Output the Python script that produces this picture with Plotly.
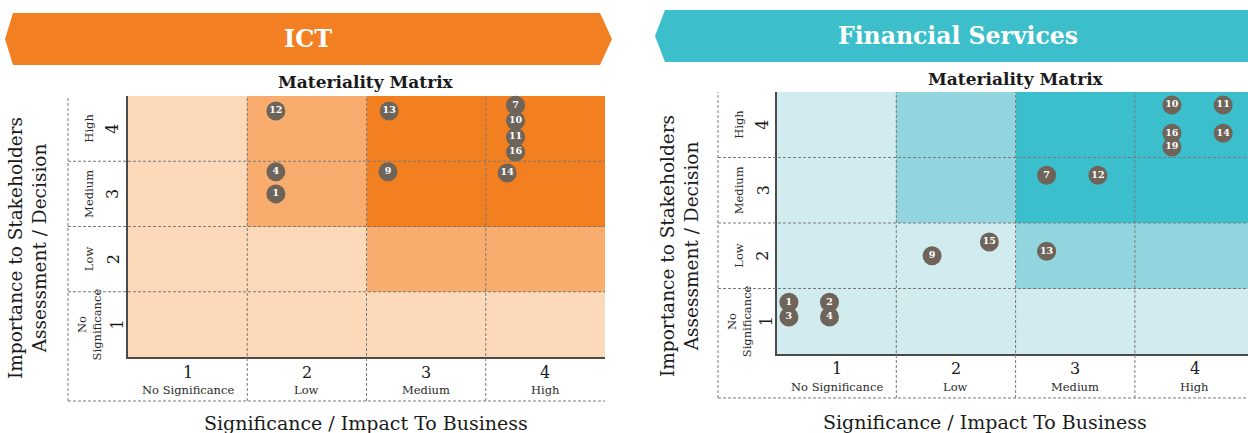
import plotly.graph_objects as go

W, H = 1248, 433

# ---------------- data ----------------
levels = ["No Significance", "Low", "Medium", "High"]
level_nums = ["1", "2", "3", "4"]
y_levels = ["No<br>Significance", "Low", "Medium", "High"]

# cell intensity (rows bottom->top, cols left->right): 0 light, 1 medium, 2 dark
cell_levels = [
    [0, 0, 0, 0],
    [0, 0, 1, 1],
    [0, 1, 2, 2],
    [0, 1, 2, 2],
]

ict_ids = ["12", "13", "7", "10", "11", "16", "4", "1", "9", "14"]
ict_x = [1.24, 2.19, 3.25, 3.25, 3.25, 3.25, 1.24, 1.24, 2.18, 3.18]
ict_y = [3.77, 3.77, 3.86, 3.62, 3.37, 3.14, 2.84, 2.50, 2.84, 2.82]

fs_ids = ["10", "11", "16", "14", "19", "7", "12", "15", "13", "9", "1", "2", "3", "4"]
fs_x = [3.31, 3.74, 3.31, 3.74, 3.31, 2.26, 2.69, 1.78, 2.26, 1.30, 0.10, 0.44, 0.10, 0.44]
fs_y = [3.80, 3.80, 3.37, 3.37, 3.16, 2.73, 2.73, 1.71, 1.57, 1.50, 0.79, 0.79, 0.565, 0.565]

ict_colors = ["#FCD9B8", "#F8AC6D", "#F27F20"]
fs_colors = ["#D2EBEE", "#93D5DE", "#3BBFCC"]

FONT = "DejaVu Serif"
DOT = "#6E645A"
DASH = "#7a7a7a"
INK = "#1a1a1a"


def px(x):
    return x / W


def py(y):
    return 1 - y / H


fig = go.Figure()

panels = [
    dict(name="ICT", banner="#F28022", colors=ict_colors, ids=ict_ids, xs=ict_x, ys=ict_y,
         xa="x", ya="y", left=128, right=605, top=96, bottom=357, outer=68, low=401,
         unit=119.25, band=(5, 13, 612, 13, 65, 39), title_x=308, title_y=39,
         mm_x=366, mm_y=82, ylab_x=(89, 113, 117), ytitle_x=27, ytitle_y=248,
         xnum_y=372, xlab_y=390, xtitle_y=423, xtitle_x=366, clip=False),
    dict(name="Financial Services", banner="#3CBFCB", colors=fs_colors, ids=fs_ids, xs=fs_x, ys=fs_y,
         xa="x2", ya="y2", left=777, right=1248, top=92, bottom=354, outer=718, low=398,
         unit=119.3, band=(655, 665, 1260, 10, 62, 36), title_x=958, title_y=36,
         mm_x=1016, mm_y=79, ylab_x=(739, 763, 766), ytitle_x=679, ytitle_y=246,
         xnum_y=368, xlab_y=387, xtitle_y=422, xtitle_x=985, clip=True),
]

shapes = []
annotations = []
layout_axes = {}

for i, p in enumerate(panels):
    xa, ya = p["xa"], p["ya"]
    xrange_max = (p["right"] - p["left"]) / p["unit"]
    if not p["clip"]:
        xrange_max = 4
    axis_suffix = "" if i == 0 else "2"
    layout_axes["xaxis" + axis_suffix] = dict(
        domain=[px(p["left"]), px(p["right"])], range=[0, xrange_max],
        showgrid=False, zeroline=False, showticklabels=False, ticks="",
        showline=True, linecolor="#4a4a4a", linewidth=1.5, anchor=ya, fixedrange=True)
    layout_axes["yaxis" + axis_suffix] = dict(
        domain=[py(p["bottom"]), py(p["top"])], range=[0, 4],
        showgrid=False, zeroline=False, showticklabels=False, ticks="",
        showline=True, linecolor="#4a4a4a", linewidth=1.5, anchor=xa, fixedrange=True)

    # cells
    fig.add_trace(go.Heatmap(
        z=cell_levels, x=[0.5, 1.5, 2.5, 3.5], y=[0.5, 1.5, 2.5, 3.5],
        zmin=0, zmax=2, showscale=False, hoverinfo="skip",
        colorscale=[[0, p["colors"][0]], [0.5, p["colors"][1]], [1, p["colors"][2]]],
        xaxis=xa, yaxis=ya))

    # issue dots
    fig.add_trace(go.Scatter(
        x=p["xs"], y=p["ys"], text=p["ids"], mode="markers+text",
        marker=dict(size=19, color=DOT, line=dict(width=0)),
        textposition="middle center",
        textfont=dict(family=FONT, size=9.5, color="white", weight="bold"),
        xaxis=xa, yaxis=ya, showlegend=False, cliponaxis=False, hoverinfo="skip"))

    xr = p["right"]
    dash = dict(color=DASH, width=1, dash="3px,2px")
    # horizontal dashed lines at row boundaries
    for yv in [1, 2, 3]:
        shapes.append(dict(type="line", xref="paper", yref=ya, x0=px(p["outer"]), x1=px(xr),
                           y0=yv, y1=yv, line=dash))
    # vertical dashed lines at column boundaries
    for xv in [1, 2, 3]:
        shapes.append(dict(type="line", xref=xa, yref="paper", x0=xv, x1=xv,
                           y0=py(p["low"]), y1=py(p["top"]), line=dash))
    # outer dashed frame
    shapes.append(dict(type="line", xref="paper", yref="paper", x0=px(p["outer"]), x1=px(p["outer"]),
                       y0=py(p["low"]), y1=py(p["top"]), line=dash))
    shapes.append(dict(type="line", xref="paper", yref="paper", x0=px(p["outer"]), x1=px(xr),
                       y0=py(p["low"]), y1=py(p["low"]), line=dash))

    # banner
    a, b, c, t, bt, mid = p["band"]
    if i == 0:
        pts = [(b, t), (600, t), (c, mid), (600, bt), (b, bt), (a, mid)]
    else:
        pts = [(b, t), (c, t), (c, bt), (b, bt), (a, mid)]
    path = "M " + " L ".join(f"{px(x):.5f},{py(y):.5f}" for x, y in pts) + " Z"
    shapes.append(dict(type="path", xref="paper", yref="paper", path=path,
                       fillcolor=p["banner"], line=dict(width=0), layer="below"))

    annotations.append(dict(text=f"<b>{p['name']}</b>", x=px(p["title_x"]), y=py(p["title_y"]),
                            xref="paper", yref="paper", showarrow=False,
                            font=dict(family=FONT, size=24 if i == 0 else 23.5, color="white"),
                            xanchor="center", yanchor="middle"))
    annotations.append(dict(text="<b>Materiality Matrix</b>", x=px(p["mm_x"]), y=py(p["mm_y"]),
                            xref="paper", yref="paper", showarrow=False,
                            font=dict(family=FONT, size=17, color=INK),
                            xanchor="center", yanchor="middle"))

    # x tick labels
    for k in range(4):
        annotations.append(dict(text=level_nums[k], x=k + 0.5, y=py(p["xnum_y"]), xref=xa, yref="paper",
                                showarrow=False, font=dict(family=FONT, size=16, color=INK),
                                xanchor="center", yanchor="middle"))
        annotations.append(dict(text=levels[k], x=k + 0.5, y=py(p["xlab_y"]), xref=xa, yref="paper",
                                showarrow=False, font=dict(family=FONT, size=11.5, color="#2a2a2a"),
                                xanchor="center", yanchor="middle"))
    # y tick labels (rotated)
    lx, nx, nx1 = p["ylab_x"]
    for k in range(4):
        annotations.append(dict(text=y_levels[k], x=px(lx), y=k + 0.5, xref="paper", yref=ya,
                                showarrow=False, textangle=-90,
                                font=dict(family=FONT, size=11.5, color="#2a2a2a"),
                                xanchor="center", yanchor="middle"))
        annotations.append(dict(text=level_nums[k], x=px(nx1 if k == 0 else nx), y=k + 0.5,
                                xref="paper", yref=ya, showarrow=False, textangle=-90,
                                font=dict(family=FONT, size=16, color=INK),
                                xanchor="center", yanchor="middle"))
    # axis titles
    annotations.append(dict(text="Importance to Stakeholders<br>Assessment / Decision",
                            x=px(p["ytitle_x"]), y=py(p["ytitle_y"]), xref="paper", yref="paper",
                            showarrow=False, textangle=-90,
                            font=dict(family=FONT, size=18.5, color=INK),
                            xanchor="center", yanchor="middle"))
    annotations.append(dict(text="Significance / Impact To Business",
                            x=px(p["xtitle_x"]), y=py(p["xtitle_y"]), xref="paper", yref="paper",
                            showarrow=False, font=dict(family=FONT, size=19, color=INK),
                            xanchor="center", yanchor="middle"))

fig.update_layout(
    width=W, height=H, margin=dict(l=0, r=0, t=0, b=0),
    paper_bgcolor="white", plot_bgcolor="white",
    showlegend=False, shapes=shapes, annotations=annotations,
    **layout_axes)

fig.write_html("out.html", config={"displayModeBar": False})
